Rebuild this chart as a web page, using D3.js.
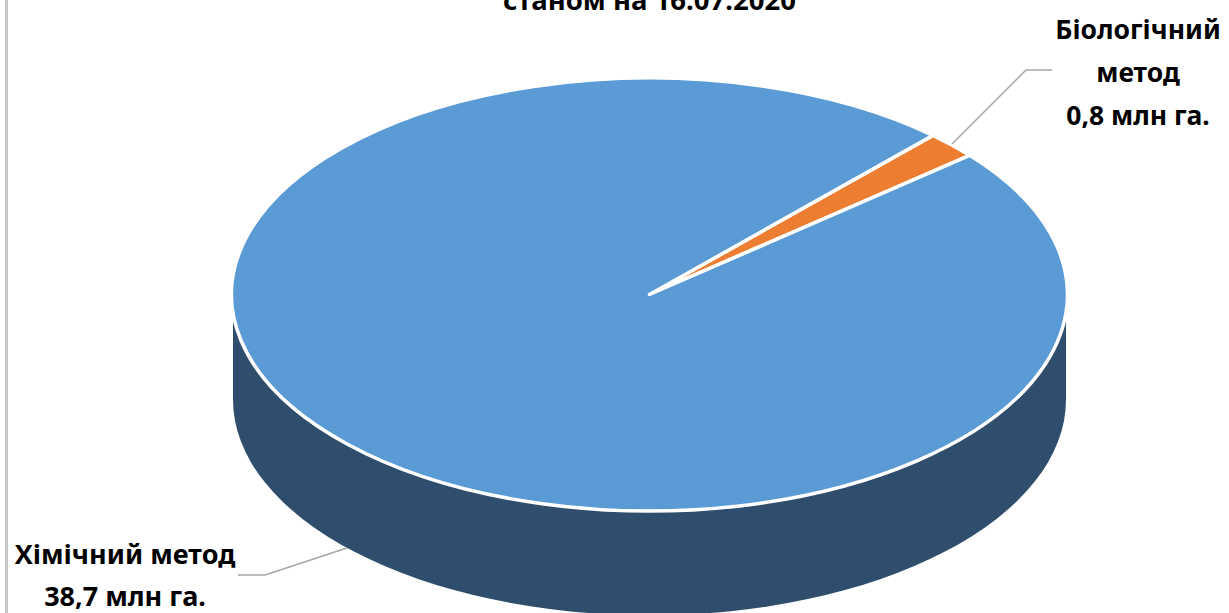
<!DOCTYPE html>
<html>
<head>
<meta charset="utf-8">
<script src="https://cdn.jsdelivr.net/npm/d3@7"></script>
<style>
  body { margin: 0; background: #fff; }
  text { font-family: "Noto Sans", sans-serif; font-weight: 700; fill: #000; text-anchor: middle; }
</style>
</head>
<body>
<div class="chart"></div>
<script>
var svgWidth = 1229;
var svgHeight = 613;

var methods = ["Біологічний метод", "Хімічний метод"];
var areas = [0.8, 38.7];
var colors = ["#ed7d31", "#5b9bd5"];
var titleText = "станом на 16.07.2020";
var bioLabel = ["Біологічний", "метод", "0,8 млн га."];
var chemLabel = ["Хімічний метод", "38,7 млн га."];

// pie geometry, excel style 3d: flattened circle plus a side wall
var cx = 649.5;
var cy = 294.5;
var rx = 418;
var ry = 216.5;
var depth = 105;
var flat = ry / rx;
var firstAngle = 42.7 * Math.PI / 180;

var svg = d3.select(".chart")
  .append("svg")
  .attr("width", svgWidth)
  .attr("height", svgHeight)
  .style("display", "block");

// grey chart border, only the left side is in the frame
svg.append("rect")
  .attr("x", 5)
  .attr("y", 0)
  .attr("width", 3)
  .attr("height", svgHeight)
  .attr("fill", "#c8c8c8");

var pieGroup = svg.append("g")
  .attr("transform", `translate(${cx}, ${cy}) scale(1, ${flat})`);

// side wall
var wall = d3.path();
wall.arc(0, 0, rx - 1.5, Math.PI, 0, true);
wall.lineTo(rx - 1.5, depth / flat);
wall.arc(0, depth / flat, rx - 1.5, 0, Math.PI, false);
wall.closePath();

pieGroup.append("path")
  .attr("d", wall.toString())
  .attr("fill", "#2f4e6e");

var pie = d3.pie()
  .sort(null)
  .startAngle(firstAngle)
  .endAngle(firstAngle + 2 * Math.PI);

var arc = d3.arc()
  .innerRadius(0)
  .outerRadius(rx);

pieGroup.selectAll(".slice")
  .data(pie(areas))
  .enter()
  .append("path")
  .attr("class", "slice")
  .attr("d", arc)
  .attr("fill", (d, i) => colors[i])
  .attr("stroke", "#fff")
  .attr("stroke-width", 3.5)
  .attr("stroke-linejoin", "round")
  .attr("vector-effect", "non-scaling-stroke")
  .append("title")
  .text((d, i) => methods[i]);

// leader lines
var leaders = [
  [[952, 144], [1026, 70], [1052, 70]],
  [[347, 548], [265, 575], [238, 575]]
];
svg.selectAll(".leader")
  .data(leaders)
  .enter()
  .append("path")
  .attr("class", "leader")
  .attr("d", d3.line())
  .attr("fill", "none")
  .attr("stroke", "#a6a6a6")
  .attr("stroke-width", 1.5);

function addLines(lines, x, baselines, size) {
  lines.forEach(function(line, i) {
    svg.append("text")
      .attr("x", x)
      .attr("y", baselines[i])
      .style("font-size", size + "px")
      .text(line);
  });
}

// the top of the title falls outside the frame, same as the original picture
addLines([titleText], 649.5, [10], 27.5);
addLines(bioLabel, 1138, [39, 82, 125], 26.5);
addLines(chemLabel, 125, [564, 606], 27);
</script>
</body>
</html>
